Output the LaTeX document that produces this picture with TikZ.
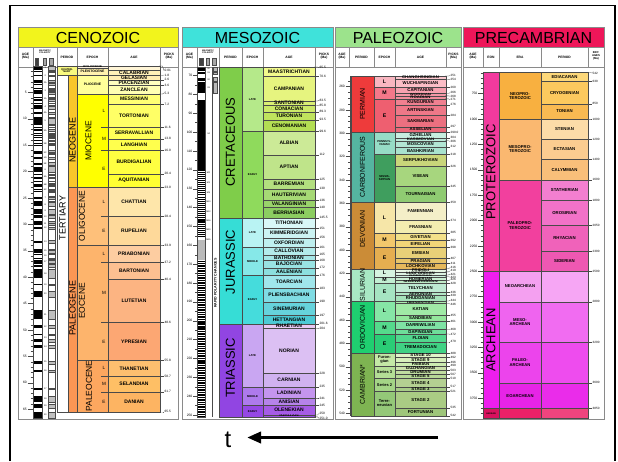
\documentclass[tikz,border=0pt]{standalone}
\usepackage{fontspec}
\setmainfont{Liberation Sans}
\usetikzlibrary{arrows.meta}
\definecolor{bdr}{HTML}{4A4A4A}
\definecolor{pnl}{HTML}{8A8A8A}
\definecolor{cenoT}{HTML}{F2F41C}
\definecolor{mesoT}{HTML}{3FE2DA}
\definecolor{paleoT}{HTML}{9CE38C}
\definecolor{precT}{HTML}{EE1659}
\newcommand\gdefcol[1]{\definecolor{gtmp}{HTML}{#1}}
\newcommand\gbox[8]{%
  \pgfmathsetmacro\gya{#4}%
  \pgfmathsetmacro\gyb{#5}%
  \edef\gspec{#6}\expandafter\gdefcol\expandafter{\gspec}%
  \path[fill=gtmp,draw=bdr,line width=0.3pt] (#2,\gya) rectangle (#3,\gyb);%
  \pgfmathsetmacro\gsc{min(1,(\gyb-\gya)/(0.85*#8))}%
  \node[stl,yscale=\gsc,font=\bfseries\fontsize{#8}{#8}\selectfont] (#1) at ({(#2+#3)/2},{(\gya+\gyb)/2}) {#7};}
\newcommand\gpick[6]{%
  \pgfmathsetmacro\pya{#3}%
  \pgfmathsetmacro\pyb{#4}%
  \draw[bdr,line width=0.3pt] (#2-1,\pya) -- (#2+2.5,\pya) -- (#2+4,\pyb);%
  \node[anchor=west,inner sep=0,font=\fontsize{#6}{#6}\selectfont] (#1) at (#2+4.4,\pyb) {#5};}
\begin{document}
\begin{tikzpicture}[x=1pt,y=-1pt,
  declare function={yc(\t)=66+5.28*\t; ym(\t)=67+(\t-65.5)*1.886; yp(\t)=76+(\t-251)*1.168; yq(\t)=72.5+(\t-542)*0.1015;},
  stl/.style={inner sep=0,align=center,text=black},
  hdr/.style={inner sep=0,align=center,font=\bfseries\fontsize{3.3}{3.6}\selectfont},
  ttl/.style={inner sep=0,font=\fontsize{16}{16}\selectfont},
  rot/.style={inner sep=0,rotate=90,font=\fontsize{#1}{#1}\selectfont},
  axl/.style={inner sep=0,anchor=east,font=\fontsize{3.3}{3.3}\selectfont},
  lme/.style={inner sep=0,font=\fontsize{4.6}{4.6}\selectfont},
  chr/.style={inner sep=0,font=\fontsize{2.2}{2.2}\selectfont},
  tk/.style={bdr,line width=0.3pt},
  pnlline/.style={pnl,line width=0.7pt},
  hline/.style={pnl,line width=0.45pt}]
\useasboundingbox (0,0) rectangle (618,461);
\fill[white] (0,0) rectangle (618,461);
\draw[line width=1.8pt] (10,461) -- (10,5.5) -- (615,5.5) -- (615,461);

%%%%%%%%%%%%%%%% CENOZOIC
\fill[cenoT] (18,27) rectangle (178,47);
\node[ttl] (cenoTitle) at (98,37.6) {CENOZOIC};
\draw[hline] (18,47) -- (178,47) (18,67) -- (178,67);
\foreach \x in {33,57,77,108,160} \draw[hline] (\x,47) -- (\x,67);
\node[hdr] (czh1) at (25.5,56) {AGE\\(Ma)};
\node[hdr,font=\bfseries\fontsize{2.2}{2.4}\selectfont] (czh2) at (45,51.5) {MAGNETIC\\POLARITY};
\foreach \x/\cc in {35/black!75,43/gray!70,49.5/gray!70} \filldraw[fill=\cc,draw=bdr,line width=0.2pt] (\x,58) rectangle (\x+3.5,65);
\node[hdr] (czh3) at (67,57) {PERIOD};
\node[hdr] (czh4) at (92.5,57) {EPOCH};
\node[hdr] (czh5) at (134,57) {AGE};
\node[hdr] (czh6) at (169,56) {PICKS\\(Ma)};
% polarity
\fill[white] (33,66) rectangle (42,418.5);
\fill[white] (48.5,66) rectangle (55,418.5);
\foreach \ta/\tb in {0/0.78,0.99/1.07,1.77/1.95,2.58/3.04,3.11/3.22,3.33/3.58,4.18/4.29,4.48/4.62,4.80/4.89,4.98/5.23,5.89/6.14,6.27/6.57,6.94/7.09,7.43/7.56,7.65/8.07,8.70/9.03,9.74/9.88,9.92/10.95,11.05/11.15,11.48/11.53,11.94/12.40,12.68/12.82,13.01/13.20,13.51/13.70,14.08/14.18,14.61/14.80,14.89/15.03,16.01/16.29,16.33/16.49,16.56/16.73,17.28/17.62,18.28/18.78,19.05/20.13,20.52/20.73,20.96/21.32,21.77/21.86,22.27/22.46,22.59/22.83,23.35/23.54,23.68/23.80,24.73/24.78,24.84/25.18,25.50/25.65,25.82/26.55,27.03/27.97,28.28/28.75,29.40/29.66,29.77/30.10,30.48/30.94,33.06/33.55,34.66/34.78,34.94/35.34,35.53/35.69,36.34/36.62,36.70/37.24,37.29/37.47,37.60/38.07,38.43/40.13,41.26/41.52,42.54/43.79,46.26/47.91,49.04/49.71,50.78/50.95,51.74/52.36,52.90/53.35,55.90/56.39,57.55/57.91,60.92/61.28,62.50/63.63,63.98/64.75,65.58/66.7}
  {\fill[black] (33,{yc(\ta)}) rectangle (42,{yc(\tb)});
   \filldraw[fill=gray!50,draw=bdr,line width=0.2pt] (48.5,{yc(\ta)}) rectangle (55,{yc(\tb)});}
\draw[bdr,line width=0.3pt] (33,66) rectangle (42,418.5);
\draw[bdr,line width=0.3pt] (48.5,66) rectangle (55,418.5);
\foreach \t/\lb [count=\n] in {0.4/1,1.9/2,3.1/2A,4.6/3,6.2/3A,7.8/4,8.9/4A,10.4/5,12.2/5A,14.8/5B,16.4/5C,17.45/5D,18.5/5E,19.6/6,21/6A,22.5/6B,23.5/6C,24.9/7,26.2/8,27.5/9,28.5/10,29.9/11,30.7/12,33.3/13,35/15,35.9/16,37/17,39.3/18,41.4/19,43.2/20,47.1/21,49.4/22,51.5/23,53.1/24,56.1/25,57.7/26,61.1/27,63/28,64.4/29,66.1/30}
  \node[chr] (czc\n) at (45.3,{yc(\t)}) {\lb};
\foreach \t in {1,...,65} \draw[tk] (30.5,{yc(\t)}) -- (33,{yc(\t)});
\foreach \t in {5,10,...,65} {\draw[tk] (27.5,{yc(\t)}) -- (33,{yc(\t)}); \node[axl] (ca\t) at (27,{yc(\t)}) {\t};}
% periods
\gbox{czq}{57}{77}{yc(0)}{yc(1.8)}{F9F97F}{QUATER-\\NARY}{2.6}
\gbox{czt}{57}{68}{yc(1.8)}{yc(65.5)}{FFFFFF}{}{3}
\gbox{czn}{68}{77}{yc(1.8)}{yc(23.0)}{F9C62A}{}{3}
\gbox{czp}{68}{77}{yc(23.0)}{yc(65.5)}{FB9654}{}{3}
\node[rot=9] (czTert) at (62.5,218) {TERTIARY};
\node[rot=9] (czNeo) at (72.5,140) {NEOGENE};
\node[rot=9] (czPal) at (72.5,308) {PALEOGENE};
% epochs
\foreach \ta/\tb/\cl/\lb [count=\n] in {0/0.4/FEF2E0/HOLOCENE,0.4/1.8/FFF2AE/PLEISTOCENE,1.8/5.3/FFFF99/PLIOCENE,5.3/23.0/FFFF00/{},23.0/33.9/FEC07A/{},33.9/55.8/FDB46C/{},55.8/65.5/FDA75F/{}}
  {\gbox{cze\n}{77}{108}{yc(\ta)}{yc(\tb)}{\cl}{\lb}{3.4}}
\node[rot=8.5] (czMio) at (88.5,141) {MIOCENE};
\node[rot=8.5] (czOli) at (82,216) {OLIGOCENE};
\node[rot=8.5] (czEoc) at (82,301) {EOCENE};
\node[rot=8.5] (czPac) at (89,386) {PALEOCENE};
\foreach \t in {11.6,16.0,28.4,37.2,48.6,58.7,61.7} \draw[tk] (101,{yc(\t)}) -- (108,{yc(\t)});
\foreach \t/\lb [count=\n] in {8.45/L,13.8/M,19.5/E,25.7/L,31.15/E,35.55/L,42.9/M,52.2/E,57.25/L,60.2/M,63.6/E}
  \node[lme] (czl\n) at (104,{yc(\t)}) {\lb};
% stages
\foreach \ta/\tb/\cl/\lb [count=\n] in {0/0.7/FFF5D6/{},0.7/1.8/FFF0B8/CALABRIAN,1.8/2.6/FFEDB3/GELASIAN,2.6/3.6/FFFFBF/PIACENZIAN,3.6/5.3/FFFFB3/ZANCLEAN,5.3/7.2/FFFF73/MESSINIAN,7.2/11.6/FFFF66/TORTONIAN,11.6/13.8/FFFF59/SERRAVALLIAN,13.8/16.0/FFFF4D/LANGHIAN,16.0/20.4/FFFF41/BURDIGALIAN,20.4/23.0/FFFF33/AQUITANIAN,23.0/28.4/FEE6AA/CHATTIAN,28.4/33.9/FED99A/RUPELIAN,33.9/37.2/FDCDA1/PRIABONIAN,37.2/40.4/FDC091/BARTONIAN,40.4/48.6/FCB482/LUTETIAN,48.6/55.8/FCA773/YPRESIAN,55.8/58.7/FDBF6F/THANETIAN,58.7/61.7/FEBF65/SELANDIAN,61.7/65.5/FDB462/DANIAN}
  {\gbox{czs\n}{108}{160}{yc(\ta)}{yc(\tb)}{\cl}{\lb}{5}}
\foreach \t/\lb/\dy [count=\n] in {0.01/0.01/4.5,1.8/1.8/-0.5,2.6/2.6/0,3.6/3.6/0,5.3/5.3/-1,7.2/7.2/0,11.6/11.6/0,13.8/13.8/0,16.0/16.0/0,20.4/20.4/0,23.0/23.0/0,28.4/28.4/0,33.9/33.9/0,37.2/37.2/0,40.4/40.4/0,48.6/48.6/0,55.8/55.8/0,58.7/58.7/0,61.7/61.7/0,65.5/65.5/0}
  {\gpick{czk\n}{160}{yc(\t)}{yc(\t)+\dy}{\lb}{3.2}}
\draw[pnlline] (18,27) rectangle (178,419);

%%%%%%%%%%%%%%%% MESOZOIC
\fill[mesoT] (182,27) rectangle (333,47);
\node[ttl] (mesoTitle) at (257.5,37.6) {MESOZOIC};
\draw[hline] (182,47) -- (333,47) (182,67) -- (333,67);
\foreach \x in {197,219,242,263,315} \draw[hline] (\x,47) -- (\x,67);
\node[hdr] (mzh1) at (189.5,56) {AGE\\(Ma)};
\node[hdr,font=\bfseries\fontsize{2.2}{2.4}\selectfont] (mzh2) at (208,51.5) {MAGNETIC\\POLARITY};
\foreach \x/\cc in {199.5/black!75,206/gray!70,212.5/gray!70} \filldraw[fill=\cc,draw=bdr,line width=0.2pt] (\x,58) rectangle (\x+3.5,65);
\node[hdr] (mzh3) at (230.5,57) {PERIOD};
\node[hdr] (mzh4) at (252.5,57) {EPOCH};
\node[hdr] (mzh5) at (289,57) {AGE};
\node[hdr] (mzh6) at (324,56) {PICKS\\(Ma)};
\fill[white] (197,67) rectangle (205,417);
\foreach \ta/\tb in {65.5/67.6,68.0/69.3,71.1/73.0,73.6/79.1,83.0/120.6}
  {\fill[black] (197,{ym(\ta)}) rectangle (205,{ym(\tb)});}
\foreach \ta/\tb in {65.5/67.6,68.0/69.3,71.1/73.0,73.6/79.1}
  {\filldraw[fill=gray!55,draw=bdr,line width=0.2pt] (212.8,{ym(\ta)}) rectangle (217.5,{ym(\tb)});}
\fill[gray!55] (197,{ym(157)}) rectangle (205,{ym(168)});
\pgfmathsetseed{4242}
\foreach \t in {121,122.1,...,156} {\pgfmathsetmacro\stw{0.25+0.55*rnd}\fill[black] (197,{ym(\t)}) rectangle (205,{ym(\t+\stw)});}
\foreach \t in {168.5,169.4,...,250.4} {\pgfmathsetmacro\stw{0.2+0.5*rnd}\fill[black] (197,{ym(\t)}) rectangle (205,{ym(\t+\stw)});}
\draw[bdr,line width=0.3pt] (197,67) rectangle (205,417);
\draw[tk] (212,67) -- (212,417);
\foreach \t/\lb [count=\n] in {66.6/30,68.7/31,72/32,76.4/33,101/34,121.5/M0,127/M1,132/M5,137/M10,142/M12,147/M16,152/M20,157/M25}
  \node[chr] (mzc\n) at (208.5,{ym(\t)}) {\lb};
\node[rot=4,font=\bfseries\fontsize{3.6}{3.6}\selectfont] (mzrpc) at (215.5,283) {RAPID POLARITY CHANGES};
\foreach \t in {70,75,...,250} \draw[tk] (195,{ym(\t)}) -- (197,{ym(\t)});
\foreach \t in {70,80,...,250} {\draw[tk] (193,{ym(\t)}) -- (197,{ym(\t)}); \node[axl] (ma\t) at (192.5,{ym(\t)}) {\t};}
\foreach \ta/\tb/\cl [count=\n] in {65.5/145.5/7FCD4A,145.5/201.6/36DDD6,201.6/251/9145E2}
  {\gbox{mzp\n}{219}{242}{ym(\ta)}{ym(\tb)}{\cl}{}{3}}
\node[rot=13] (mzK) at (230.5,142) {CRETACEOUS};
\node[rot=13] (mzJ) at (230.5,262) {JURASSIC};
\node[rot=13] (mzTr) at (230.5,368) {TRIASSIC};
\foreach \ta/\tb/\cl/\lb [count=\n] in {65.5/99.6/B5E98A/LATE,99.6/145.5/8FDA5C/EARLY,145.5/161/B9F3F3/LATE,161/176/86E8E8/MIDDLE,176/201.6/45DCDC/EARLY,201.6/235/C9A6F2/LATE,235/245/AE7AEC/MIDDLE,245/251/9548E4/EARLY}
  {\gbox{mze\n}{242}{263}{ym(\ta)}{ym(\tb)}{\cl}{\lb}{2.8}}
\foreach \ta/\tb/\cl/\lb [count=\n] in {65.5/70.6/F2FA8C/MAASTRICHTIAN,70.6/83.5/E6F47F/CAMPANIAN,83.5/85.8/D9EF74/SANTONIAN,85.8/89.3/CCE968/CONIACIAN,89.3/93.5/BFE35D/TURONIAN,93.5/99.6/B3DE53/CENOMANIAN,99.6/112/CCEA97/ALBIAN,112/125/BFE48A/APTIAN,125/130/B3DF7F/BARREMIAN,130/136/A6D975/HAUTERIVIAN,136/140/99D36A/VALANGINIAN,140/145.5/8CCD60/BERRIASIAN,145.5/151/D9F7F7/TITHONIAN,151/156/CCF3F3/KIMMERIDGIAN,156/161/BFEFEF/OXFORDIAN,161/165/B3EBEB/CALLOVIAN,165/168/A6E7E7/BATHONIAN,168/172/99E3E3/BAJOCIAN,172/176/8CDFDF/AALENIAN,176/183/A0E6EC/TOARCIAN,183/190/80DCE4/PLIENSBACHIAN,190/197/66D3DC/SINEMURIAN,197/201.6/4CCAD4/HETTANGIAN,201.6/204/E9C9F3/RHAETIAN,204/228/DCC0F3/NORIAN,228/235/D0B2F0/CARNIAN,235/241/C495EE/LADINIAN,241/245/B683EA/ANISIAN,245/250/A65CE6/OLENEKIAN,250/251/9A4EE2/INDUAN}
  {\gbox{mzs\n}{263}{315}{ym(\ta)}{ym(\tb)}{\cl}{\lb}{5}}
\foreach \t/\lb/\dy [count=\n] in {65.5/65.5/0.8,70.6/70.6/0,83.5/83.5/-0.6,85.8/85.8/0.6,89.3/89.3/0,93.5/93.5/0,99.6/99.6/0,112/112/0,125/125/0,130/130/0,136/136/0,140/140/0,145.5/145.5/0,151/151/0,156/156/0,161/161/0,165/165/0,168/168/0,172/172/0,176/176/0,183/183/0,190/190/0,197/197/0,201.6/201.6/0,204/204/0.5,228/228/0,235/235/0,241/241/0,245/245/0,250/250/-1.5,251/251.0/1.5}
  {\gpick{mzk\n}{315}{ym(\t)}{ym(\t)+\dy}{\lb}{3.2}}
\draw[pnlline] (182,27) rectangle (333,419);

%%%%%%%%%%%%%%%% PALEOZOIC
\fill[paleoT] (335,27) rectangle (461,47);
\node[ttl] (paleoTitle) at (398,37.6) {PALEOZOIC};
\draw[hline] (335,47) -- (461,47) (335,67) -- (461,67);
\foreach \x in {349,374,395,446} \draw[hline] (\x,47) -- (\x,67);
\node[hdr] (pzh1) at (342,56) {AGE\\(Ma)};
\node[hdr] (pzh3) at (361.5,57) {PERIOD};
\node[hdr] (pzh4) at (384.5,57) {EPOCH};
\node[hdr] (pzh5) at (420.5,57) {AGE};
\node[hdr] (pzh6) at (453.5,56) {PICKS\\(Ma)};
\draw[tk] (350.5,{yp(251)}) -- (350.5,{yp(542)});
\foreach \t in {255,260,...,540} \draw[tk] (348,{yp(\t)}) -- (350.5,{yp(\t)});
\foreach \t in {260,280,...,540} {\draw[tk] (345.5,{yp(\t)}) -- (350.5,{yp(\t)}); \node[axl] (pa\t) at (345,{yp(\t)}) {\t};}
\foreach \ta/\tb/\cl [count=\n] in {251/299/EE3B3B,299/359.2/55B5A0,359.2/416/CB8C37,416/443.7/A8E8C4,443.7/488.3/1FCF70,488.3/542/7EB452}
  {\gbox{pzp\n}{351}{374}{yp(\ta)}{yp(\tb)}{\cl}{}{3}}
\node[rot=7] (pzPe) at (362.5,{yp(275)}) {PERMIAN};
\node[rot=7] (pzCa) at (362.5,{yp(329)}) {CARBONIFEROUS};
\node[rot=7] (pzDe) at (362.5,{yp(382)}) {DEVONIAN};
\node[rot=7] (pzSi) at (362.5,{yp(430)}) {SILURIAN};
\node[rot=7] (pzOr) at (362.5,{yp(466)}) {ORDOVICIAN};
\node[rot=7] (pzCm) at (362.5,{yp(515)}) {CAMBRIAN*};
\foreach \ta/\tb/\cl/\lb/\fz [count=\n] in {251/260.4/F9B6C0/L/5.2,260.4/270.6/F4788A/M/5.2,270.6/299/EE5F70/E/5.2,299/318.1/96DCC6/PENNSYL-\\VANIAN/2.8,318.1/359.2/3F9E5E/MISSIS-\\SIPPIAN/2.8,359.2/385.3/F6E6A8/L/5.2,385.3/397.5/F2C86C/M/5.2,397.5/416/E5AE50/E/5.2,416/422.9/D6F4E0/L/5.2,422.9/428.2/C2EED2/M/5.2,428.2/443.7/A6E4C2/E/5.2,443.7/460.9/86E6A6/L/5.2,460.9/471.8/55DA8C/M/5.2,471.8/488.3/2ACD76/E/5.2,488.3/499/C4E8A6/Furon-\\gian/4,499/510/B4DE96/Series 3/4,510/521/A4D486/Series 2/4,521/542/94C878/Terre-\\neuvian/4}
  {\gbox{pze\n}{374}{395}{yp(\ta)}{yp(\tb)}{\cl}{\lb}{\fz}}
\foreach \ta/\tb/\cl/\lb [count=\n] in {251/253.8/FCC8CF/CHANGHSINGIAN,253.8/260.4/FBBDC6/WUCHIAPINGIAN,260.4/265.8/F7A2B0/CAPITANIAN,265.8/268/F598A7/WORDIAN,268/270.6/F38E9E/ROADIAN,270.6/275.6/F08090/KUNGURIAN,275.6/284.4/EE7888/ARTINSKIAN,284.4/294.6/EC7080/SAKMARIAN,294.6/299/EA6878/ASSELIAN,299/303.9/C6EEE0/GZHELIAN,303.9/306.5/BCEADA/KASIMOVIAN,306.5/311.7/B2E6D4/MOSCOVIAN,311.7/318.1/A8E2CE/BASHKIRIAN,318.1/328.3/C9D67A/SERPUKHOVIAN,328.3/345.3/A7D67E/VISEAN,345.3/359.2/8FCB72/TOURNAISIAN,359.2/374.5/F4EFC8/FAMENNIAN,374.5/385.3/F3EDB0/FRASNIAN,385.3/391.8/F3E18A/GIVETIAN,391.8/397.5/F1D578/EIFELIAN,397.5/407/E8D078/EMSIAN,407/411.2/E6C46A/PRAGIAN,411.2/416/E5B85C/LOCHKOVIAN,416/418.7/E8F7E4/PRIDOLI,418.7/421.3/DCF3E2/LUDFORDIAN,421.3/422.9/D0EFDF/GORSTIAN,422.9/426.2/CCEFD4/HOMERIAN,426.2/428.2/C0EBC8/SHEINWOODIAN,428.2/436/BEEAD2/TELYCHIAN,436/439/B2E6C6/AERONIAN,439/443.7/A6E2BA/RHUDDANIAN,443.7/445.6/ACECB0/HIRNANTIAN,445.6/455.8/A0EAA6/KATIAN,455.8/460.9/94E69C/SANDBIAN,460.9/468.1/7EE2A4/DARRIWILIAN,468.1/471.8/6EDE9A/DAPINGIAN,471.8/478.6/52D88E/FLOIAN,478.6/488.3/40D284/TREMADOCIAN,488.3/492/E2F4C8/STAGE 10,492/496/D8F0BC/STAGE 9,496/499/CCECB0/PAIBIAN,499/503/CCE2AC/GUZHANGIAN,503/506.5/C0DCA0/DRUMIAN,506.5/510/B6D896/STAGE 5,510/517/B4D092/STAGE 4,517/521/A8CC88/STAGE 3,521/535/AACC84/STAGE 2,535/542/9EC67A/FORTUNIAN}
  {\gbox{pzs\n}{395}{446}{yp(\ta)}{yp(\tb)}{\cl}{\lb}{4.3}}
\foreach \t/\lb/\dy [count=\n] in {251/251/-0.5,253.8/254/0.5,260.4/260/0,265.8/266/-0.5,268/268/0.3,270.6/271/0.8,275.6/276/0,284.4/284/0,294.6/297/0,299/299.0/0,303.9/304/0,306.5/306/0.5,311.7/312/0,318.1/318/0,328.3/326/0,345.3/345/0,359.2/359/0,374.5/374/0,385.3/385/0,391.8/392/0,397.5/398/0,407/407/0,411.2/411/0,416/416/-1,418.7/419/-1,421.3/421/-0.8,422.9/423/0.3,426.2/426/-0.8,428.2/428/0,436/436/0,439/439/0,443.7/444/-0.8,445.6/446/0.8,455.8/455/0,460.9/461/0,468.1/468/-0.5,471.8/472/0.5,478.6/479/0,488.3/488/0,492/492/0,496/496/0,499/499/0,503/503/0,506.5/507/0,510/510/0,517/517/0,521/521/0,535/535/0,542/542/0}
  {\gpick{pzk\n}{446}{yp(\t)}{yp(\t)+\dy}{\lb}{3.1}}
\draw[pnlline] (335,27) rectangle (461,419);

%%%%%%%%%%%%%%%% PRECAMBRIAN
\fill[precT] (463,27) rectangle (604,47);
\node[ttl] (precTitle) at (533.5,37.6) {PRECAMBRIAN};
\draw[hline] (463,47) -- (604,47) (463,67) -- (604,67);
\foreach \x in {483,499,541,588} \draw[hline] (\x,47) -- (\x,67);
\node[hdr] (qh1) at (473,56) {AGE\\(Ma)};
\node[hdr] (qh2) at (491,57) {EON};
\node[hdr] (qh3) at (520,57) {ERA};
\node[hdr] (qh4) at (564.5,57) {PERIOD};
\node[hdr,font=\bfseries\fontsize{2.8}{3.1}\selectfont] (qh5) at (596,56) {BDY.\\AGES\\(Ma)};
\draw[tk] (483,72.5) -- (483,418);
\foreach \t in {550,600,...,3900} \draw[tk] (480.5,{yq(\t)}) -- (483,{yq(\t)});
\foreach \t in {750,1000,...,3750} {\draw[tk] (478,{yq(\t)}) -- (483,{yq(\t)}); \node[axl] (qa\t) at (477.5,{yq(\t)}) {\t};}
\foreach \ta/\tb/\cl/\lb [count=\n] in {542/2500/F23A9E/{},2500/3850/EE1EEE/{},3850/3948/D8125E/HADEAN}
  {\gbox{qe\n}{483}{499}{yq(\ta)}{yq(\tb)}{\cl}{\lb}{2.2}}
\node[rot=13] (qProt) at (491,172) {PROTEROZOIC};
\node[rot=13] (qArch) at (491,340) {ARCHEAN};
\foreach \ta/\tb/\cl/\lb [count=\n] in {542/1000/F8B040/NEOPRO-\\TEROZOIC,1000/1600/FAB870/MESOPRO-\\TEROZOIC,1600/2500/F2409E/PALEOPRO-\\TEROZOIC,2500/2800/F4A0F0/NEOARCHEAN,2800/3200/EF64EF/MESO-\\ARCHEAN,3200/3600/EC44EC/PALEO-\\ARCHEAN,3600/3850/E624E6/EOARCHEAN,3850/3948/EC2068/{}}
  {\gbox{qr\n}{499}{541}{yq(\ta)}{yq(\tb)}{\cl}{\lb}{4.2}}
\foreach \ta/\tb/\cl/\lb [count=\n] in {542/630/FDD87A/EDIACARAN,630/850/FCC95E/CRYOGENIAN,850/1000/F9BA52/TONIAN,1000/1200/FCDCA8/STENIAN,1200/1400/FBCC90/ECTASIAN,1400/1600/F9BF7A/CALYMMIAN,1600/1800/F37FD0/STATHERIAN,1800/2050/F272C8/OROSIRIAN,2050/2300/F062BA/RHYACIAN,2300/2500/EE58B2/SIDERIAN,2500/2800/F6A6F4/{},2800/3200/F16CF1/{},3200/3600/EE4CEE/{},3600/3850/EA2CEA/{},3850/3948/F0447E/{}}
  {\gbox{qp\n}{541}{588}{yq(\ta)}{yq(\tb)}{\cl}{\lb}{4.3}}
\foreach \t/\lb/\dy [count=\n] in {542/542/0.5,630/630/0,850/850/0,1000/1000/0,1200/1200/0,1400/1400/0,1600/1600/0,1800/1800/0,2050/2050/0,2300/2300/0,2500/2500/0,2800/2800/0,3200/3200/0,3600/3600/0,3850/3850/0}
  {\gpick{qk\n}{588}{yq(\t)}{yq(\t)+\dy}{\lb}{3.1}}
\draw[pnlline] (463,27) rectangle (604,419);

%%%%%%%%%%%%%%%% time arrow
\node[inner sep=0,anchor=base,font=\fontsize{24}{24}\selectfont] (tlab) at (228,447) {t};
\coordinate (arS) at (438,437.5);
\coordinate (arE) at (247,437.5);
\draw[line width=3.8pt,-{Triangle[length=14pt,width=11pt]}] (arS) -- (arE);
\end{tikzpicture}
\end{document}
